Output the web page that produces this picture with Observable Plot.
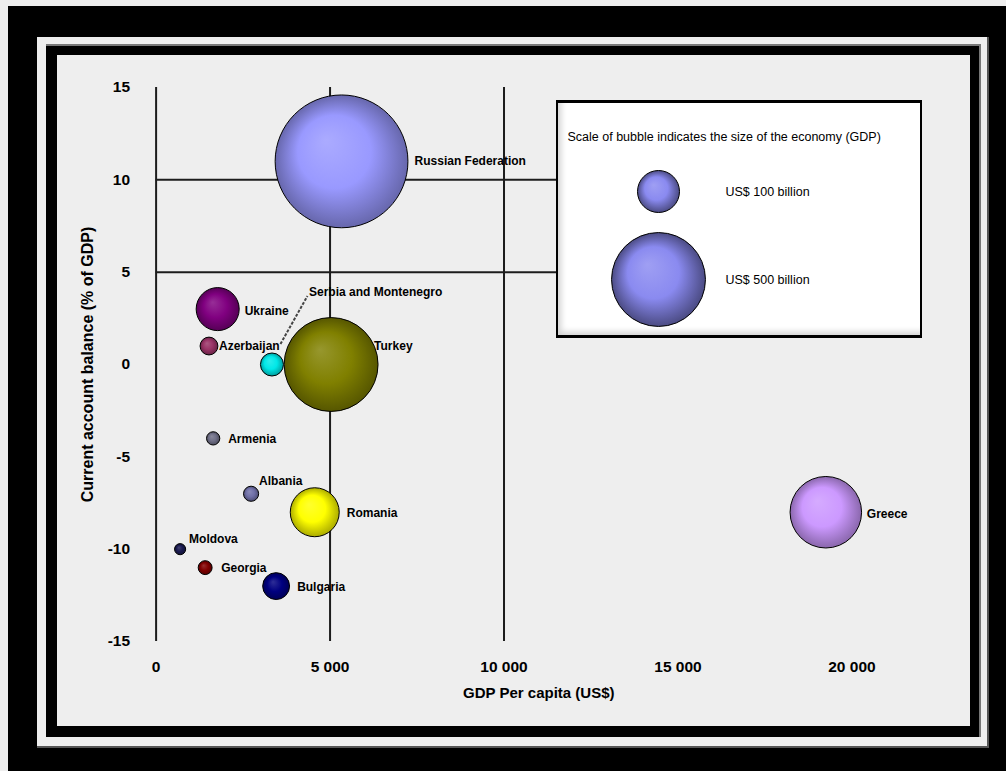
<!DOCTYPE html>
<html><head><meta charset="utf-8">
<script src="https://cdn.jsdelivr.net/npm/d3@7"></script>
<script src="https://cdn.jsdelivr.net/npm/@observablehq/plot@0.6"></script>
<style>
body{margin:0;background:#eeeeee;width:1006px;height:771px;overflow:hidden;position:relative;font-family:"Liberation Sans",Arial,sans-serif}
.abs{position:absolute;box-sizing:border-box}
</style></head><body>
<div class="abs" style="left:8px;top:6px;width:998px;height:765px;background:#000"></div>
<div class="abs" style="left:37px;top:37px;width:952px;height:711px;background:#eee;border-right:2px solid #555;border-bottom:2px solid #555"></div>
<div class="abs" style="left:46px;top:44px;width:935px;height:693px;background:#000;border-top:2px solid #777;border-right:2px solid #777"></div>
<div class="abs" style="left:57px;top:55px;width:913px;height:671px;background:#eee"></div>
<div id="chart" class="abs" style="left:0;top:0"></div>
<div id="legend" class="abs" style="left:556px;top:100px;width:366px;height:238px;background:#fff;border:2px solid #000;border-top-width:3px;border-bottom-width:3px;box-shadow:inset 5px -5px 6px -2px rgba(0,0,0,0.18)"></div>
<script>
// ---- data ----
const countries = ["Russian Federation","Turkey","Greece","Romania","Ukraine","Bulgaria","Serbia and Montenegro","Azerbaijan","Albania","Armenia","Georgia","Moldova"];
const gdpPerCapita = [5330, 5030, 19250, 4560, 1770, 3450, 3330, 1520, 2730, 1640, 1410, 690];
const currentAccount = [11, 0, -8, -8, 3, -12, 0, 1, -7, -4, -11, -10];
const gdpBillions = [1000, 500, 290, 136, 105, 41, 30, 18, 13, 10, 11, 7];
const bubbleColors = ["#9999ff","#808000","#cc99ff","#ffff00","#800080","#000080","#00e8e8","#993366","#7070a8","#707088","#800000","#1a1a50"];
const xTicks = [0, 5000, 10000, 15000, 20000];
const yTicks = [-15, -10, -5, 0, 5, 10, 15];
const gridX = [0, 5000, 10000];
const gridY = [5, 10];
const xTitle = "GDP Per capita (US$)";
const yTitle = "Current account balance (% of GDP)";
const legendTitle = "Scale of bubble indicates the size of the economy (GDP)";
const legendLabels = ["US$ 100 billion", "US$ 500 billion"];
const legendSizes = [100, 500];

// ---- layout (label offsets in px) ----
const labelOffsets = [[73,0],[43,-18],[41,2],[32,1],[27,2],[21,1],[37,-72],[10,0],[8,-13],[15,1],[16,1],[9,-10]];
const leader = {country: "Serbia and Montenegro", from: [9,-20], to: [36,-68]};

const font = '"Liberation Sans",Arial,sans-serif';

const rows = countries.map((c, i) => ({
  country: c, x: gdpPerCapita[i], y: currentAccount[i], gdp: gdpBillions[i],
  fill: `url(#bub${i})`, off: labelOffsets[i]
}));
const sorted = rows.slice().sort((a, b) => b.gdp - a.gdp);

function addGrad(defs, id, base, k) {
  const g = defs.append("radialGradient").attr("id", id)
    .attr("cx", "50%").attr("cy", "50%").attr("r", "50%").attr("fx", "38%").attr("fy", "34%");
  g.append("stop").attr("offset", "0%").attr("stop-color", d3.interpolateRgb(base, "#ffffff")(0.18));
  g.append("stop").attr("offset", "55%").attr("stop-color", base);
  g.append("stop").attr("offset", "100%").attr("stop-color", d3.color(base).darker(k).formatHex());
}

const rScale = {type: "sqrt", domain: [0, 1000], range: [0, 66.4]};

const plot = Plot.plot({
  width: 1006, height: 771,
  marginLeft: 155.6, marginRight: 85, marginTop: 87, marginBottom: 130,
  style: {background: "transparent", fontFamily: font, fontSize: "15.5px", fontWeight: "bold", color: "#000", overflow: "visible"},
  x: {domain: [0, 22000], ticks: xTicks, tickFormat: d => d3.format(",")(d).replace(/,/g, " "), tickSize: 0, tickPadding: 19, label: null},
  y: {domain: [-15, 15], ticks: yTicks, tickFormat: d => d < 0 ? "-" + Math.abs(d) : String(d), tickSize: 0, tickPadding: 26, label: null},
  r: rScale,
  color: {type: "identity"},
  marks: [
    Plot.ruleX(gridX, {stroke: "#1c1c1c", strokeWidth: 2}),
    Plot.ruleY(gridY, {stroke: "#1c1c1c", strokeWidth: 2}),
    Plot.dot(sorted, {x: "x", y: "y", r: "gdp", fill: "fill", stroke: "#000", strokeWidth: 1}),
    ...rows.map(d => Plot.text([d], {x: "x", y: "y", text: "country", dx: d.off[0], dy: d.off[1], textAnchor: "start",
      fontSize: 12, fontWeight: "bold", fontFamily: font, fill: "#000"})),
    Plot.text([xTitle], {text: d => d, frameAnchor: "bottom", textAnchor: "middle", dy: 56, fontSize: 15, fontWeight: "bold", fontFamily: font}),
    Plot.text([yTitle], {text: d => d, frameAnchor: "left", textAnchor: "middle", rotate: -90, dx: -68, fontSize: 16, fontWeight: "bold", fontFamily: font})
  ]
});
const defs = d3.select(plot).insert("defs", ":first-child");
bubbleColors.forEach((c, i) => addGrad(defs, `bub${i}`, c, 1.1));
// leader line for Serbia label, positioned through the plot's own scales
{
  const d = rows.find(r => r.country === leader.country);
  const px = plot.scale("x").apply(d.x), py = plot.scale("y").apply(d.y);
  d3.select(plot).append("line")
    .attr("x1", px + leader.from[0]).attr("y1", py + leader.from[1])
    .attr("x2", px + leader.to[0]).attr("y2", py + leader.to[1])
    .attr("stroke", "#444").attr("stroke-width", 2).attr("stroke-dasharray", "3,1.5");
}
document.getElementById("chart").appendChild(plot);

// ---- legend ----
const legendRows = legendLabels.map((l, i) => ({label: l, size: legendSizes[i]}));
const legend = Plot.plot({
  width: 362, height: 232, margin: 0,
  style: {background: "transparent", fontFamily: font, overflow: "visible"},
  x: {axis: null},
  y: {type: "point", domain: legendLabels, range: [88, 176], padding: 0, axis: null},
  r: rScale,
  color: {type: "identity"},
  marks: [
    Plot.dot(legendRows, {y: "label", r: "size", fill: () => "url(#legbub)", stroke: "#000", strokeWidth: 1, frameAnchor: "left", dx: 100}),
    Plot.text(legendRows, {y: "label", text: "label", frameAnchor: "left", dx: 167, textAnchor: "start", fontSize: 12.5, fill: "#000"}),
    Plot.text([legendTitle], {text: d => d, frameAnchor: "top-left", dx: 9, dy: 29, textAnchor: "start", fontSize: 12.5, fill: "#000"})
  ]
});
const ldefs = d3.select(legend).insert("defs", ":first-child");
addGrad(ldefs, "legbub", "#8a8af0", 1.7);
document.getElementById("legend").appendChild(legend);
</script>
</body></html>
